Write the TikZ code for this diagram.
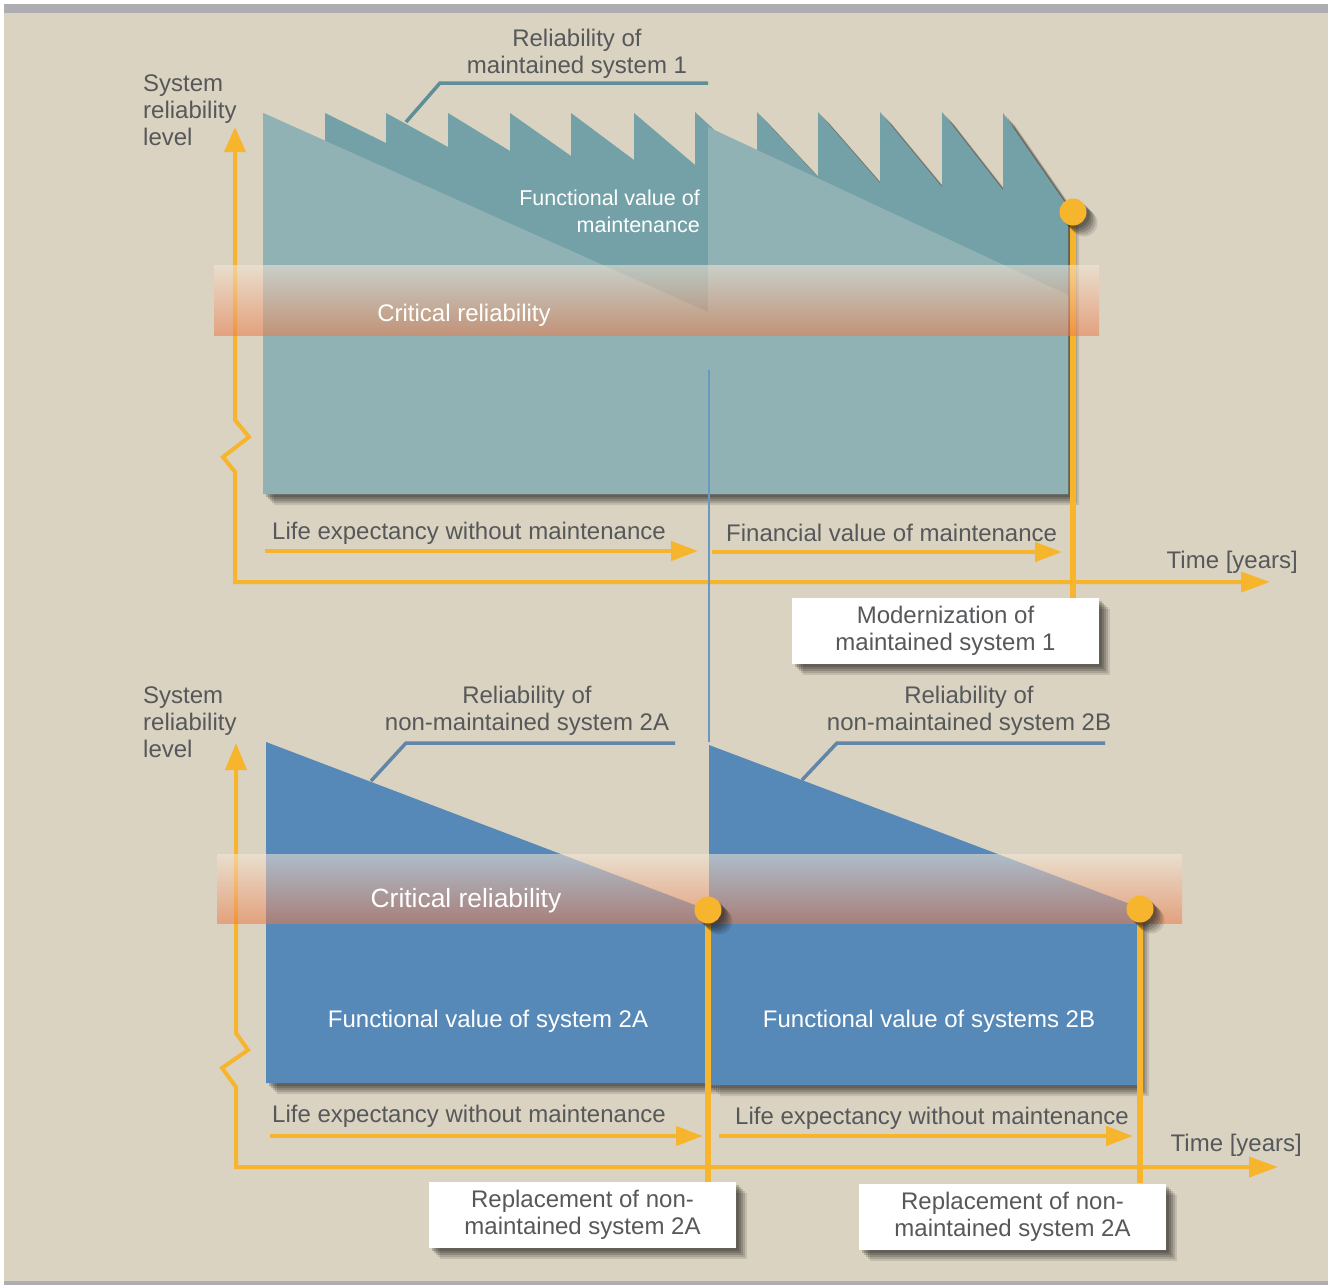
\documentclass[tikz,border=0pt]{standalone}
\usepackage{fontspec}
\setmainfont{Liberation Sans}
\usetikzlibrary{arrows.meta,shadows}

\definecolor{bg}{HTML}{DAD3C1}
\definecolor{frameg}{HTML}{AEADB1}
\definecolor{tealdark}{HTML}{74A1A7}
\definecolor{teallight}{HTML}{90B2B5}
\definecolor{sysblue}{HTML}{5688B8}
\definecolor{amber}{HTML}{F7B52E}
\definecolor{txt}{HTML}{56585A}
\definecolor{leadteal}{HTML}{5E8E98}
\definecolor{leadblue}{HTML}{6285A8}
\definecolor{linkblue}{HTML}{6A98C0}
\definecolor{bandtop}{HTML}{F6E8D8}
\definecolor{bandbot}{HTML}{EC7A48}
\definecolor{shadowc}{HTML}{1E1C18}

\tikzset{
  % soft drop shadow built from stacked translucent copies
  softshadow/.style={
    general shadow={fill=shadowc, opacity=0.12, shadow xshift=11pt, shadow yshift=-11pt},
    general shadow={fill=shadowc, opacity=0.16, shadow xshift=9pt, shadow yshift=-9pt},
    general shadow={fill=shadowc, opacity=0.18, shadow xshift=7pt, shadow yshift=-7pt},
    general shadow={fill=shadowc, opacity=0.20, shadow xshift=5pt, shadow yshift=-5pt},
    general shadow={fill=shadowc, opacity=0.22, shadow xshift=3pt, shadow yshift=-3pt},
  },
  axis/.style={amber, line width=4pt, line join=miter},
  spanarrow/.style={amber, line width=4.5pt, -{Triangle[length=27pt,width=19pt]}},
  label/.style={text=txt, font=\fontsize{24}{27}\selectfont, inner sep=0pt},
  whitelabel/.style={text=white, font=\fontsize{24}{27}\selectfont, inner sep=0pt},
  callout/.style={fill=white, softshadow, inner sep=0pt, align=center,
      text=txt, font=\fontsize{24}{27}\selectfont},
  band/.style={top color=bandtop, bottom color=bandbot, opacity=0.55},
  dot/.style={circle, fill=amber, minimum size=27pt, inner sep=0pt, softshadow},
  marker/.style={amber, line width=5.5pt},
  leader/.style={line width=3.5pt, line join=miter},
}

\begin{document}
\begin{tikzpicture}[x=1pt, y=-1pt]
% page and frame
\path[use as bounding box, fill=white] (0,0) rectangle (1335,1285);
\fill[bg] (4,13) rectangle (1328,1281);
\fill[frameg] (4,4) rectangle (1328,13);
\fill[frameg] (4,1281) rectangle (1328,1285);

% ================= maintained system =================
\coordinate (tY) at (235,127);
\coordinate (tO) at (235,582);
\coordinate (tX) at (1270,582);
\draw[axis, {Triangle[length=25pt,width=21pt]}-{Triangle[length=29pt,width=20pt]}]
  (tY) -- (235,420) -- (249,437) -- (223,457) -- (235,472) -- (tO) -- (tX);

% reliability with periodic maintenance (sawtooth)
\fill[tealdark, softshadow] (263,494) -- (263,113)
  -- (325,141) -- (325,113) -- (386,143) -- (386,113)
  -- (448,147) -- (448,113) -- (510,151) -- (510,113)
  -- (571,156) -- (571,113) -- (634,160) -- (634,113)
  -- (695,165) -- (695,112) -- (757,170) -- (757,112)
  -- (818,177) -- (818,112) -- (880,183) -- (880,112)
  -- (942,187) -- (942,112) -- (1003,190) -- (1003,113)
  -- (1068,207) -- (1068,494) -- cycle;
% underlying decline without maintenance
\fill[teallight] (263,494) -- (263,113) -- (708,312) -- (708,127)
  -- (1068,295) -- (1068,494) -- cycle;

% link between the two time lines
\coordinate (lkA) at (709,370);
\coordinate (lkB) at (709,742);
\draw[linkblue, line width=1.5pt] (lkA) -- (lkB);

% modernization marker
\node[callout, minimum width=307pt, minimum height=66pt] (modbox) at (945.5,631)
  {Modernization of\\maintained system 1};
\coordinate (m1) at (1073,212);
\draw[marker] (m1) -- (modbox.north -| m1);

% critical band
\shade[band] (214,265) rectangle (1099,335);
\node[whitelabel] (crit1) at (464,315) {Critical reliability};
\node[dot] (dot1) at (m1) {};

% leader
\coordinate (ld1) at (708,83);
\coordinate (ld1k) at (440,83);
\coordinate (ld1e) at (406,122);
\draw[leadteal, leader] (ld1) -- (ld1k) -- (ld1e);
\node[label, align=center] (rel1) at (577,54) {Reliability of\\maintained system 1};

\node[label, align=left, anchor=west] (ax1) at (143,110) {System\\reliability\\level};
\node[whitelabel, align=right, anchor=east, font=\fontsize{21.5}{27}\selectfont]
  (fv1) at (700,211) {Functional value of\\maintenance};

% spans
\coordinate (s1a) at (265,551); \coordinate (s1b) at (698,551);
\coordinate (s2a) at (712,552); \coordinate (s2b) at (1062,552);
\draw[spanarrow] (s1a) -- (s1b);
\draw[spanarrow] (s2a) -- (s2b);
\node[label, anchor=west] (le1) at (272,533) {Life expectancy without maintenance};
\node[label, anchor=west] (fin1) at (726,533) {Financial value of maintenance};
\node[label, anchor=east] (time1) at (1298,562) {Time [years]};

% ================= non-maintained systems =================
\coordinate (bY) at (236,743);
\coordinate (bO) at (236,1167);
\coordinate (bX) at (1278,1167);
\draw[axis, {Triangle[length=27pt,width=21pt]}-{Triangle[length=29pt,width=20pt]}]
  (bY) -- (236,1033) -- (248,1050) -- (222,1068) -- (236,1087) -- (bO) -- (bX);

\fill[sysblue, softshadow] (266,1083) -- (266,742) -- (708,910) -- (708,1083) -- cycle;
\fill[sysblue, softshadow] (709,1085) -- (709,745) -- (1138,907) -- (1138,1085) -- cycle;

\node[callout, minimum width=307pt, minimum height=66pt] (rbox1) at (582.5,1215)
  {Replacement of non-\\maintained system 2A};
\node[callout, minimum width=307pt, minimum height=66pt] (rbox2) at (1012.5,1216.5)
  {Replacement of non-\\maintained system 2A};

\coordinate (m2) at (708,910);
\coordinate (m3) at (1140,909);
\draw[marker] (m2) -- (rbox1.north -| m2);
\draw[marker] (m3) -- (rbox2.north -| m3);

\shade[band] (217,854) rectangle (1182,923);
\node[whitelabel, font=\fontsize{26.4}{30}\selectfont] (crit2) at (466,901) {Critical reliability};
\node[dot] (dot2) at (m2) {};
\node[dot] (dot3) at (m3) {};

% leaders
\draw[leadblue, leader] (675,743) -- (406,743) -- (371,781);
\draw[leadblue, leader] (1105,743) -- (837,743) -- (802,780);
\node[label, align=center] (rel2a) at (527,711) {Reliability of\\non-maintained system 2A};
\node[label, align=center] (rel2b) at (969,711) {Reliability of\\non-maintained system 2B};
\node[label, align=left, anchor=west] (ax2) at (143,722) {System\\reliability\\level};

\node[whitelabel] (fv2a) at (488,1021) {Functional value of system 2A};
\node[whitelabel] (fv2b) at (929,1021) {Functional value of systems 2B};

\coordinate (s3a) at (270,1136); \coordinate (s3b) at (703,1136);
\coordinate (s4a) at (719,1136); \coordinate (s4b) at (1133,1136);
\draw[spanarrow] (s3a) -- (s3b);
\draw[spanarrow] (s4a) -- (s4b);
\node[label, anchor=west] (le2) at (272,1116) {Life expectancy without maintenance};
\node[label, anchor=west] (le3) at (735,1118) {Life expectancy without maintenance};
\node[label, anchor=east] (time2) at (1302,1145) {Time [years]};
\end{tikzpicture}
\end{document}
